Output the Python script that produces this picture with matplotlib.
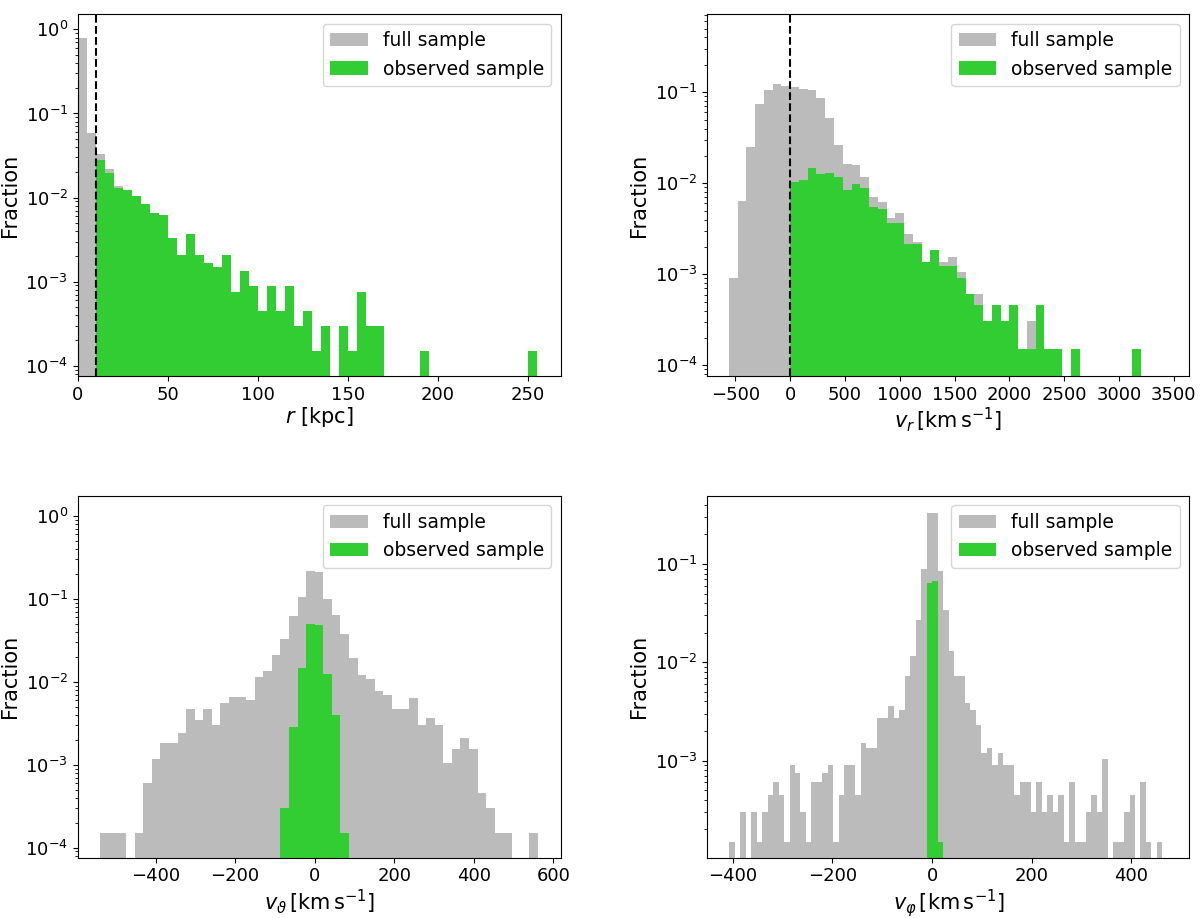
import matplotlib.pyplot as plt
from matplotlib.ticker import MultipleLocator
import numpy as np

GREY = '#bbbbbb'
GREEN = '#32cd32'

# bin edges of the four histograms
r_edges = np.arange(0, 256, 5)           # kpc, 51 bins
vr_edges = np.arange(-560, 3441, 80)     # km/s, 50 bins
vt_edges = np.arange(-25, 27) * 21.56    # km/s, 51 bins
vp_edges = np.arange(-37, 43) * 11.0     # km/s, 79 bins

# fractions
r_full = [0.796, 0.0578, 0.0331, 0.0216, 0.0136, 0.01245, 0.01047, 0.0084, 0.0065, 0.00628,
          0.00328, 0.0021, 0.00373, 0.0021, 0.00165, 0.0015, 0.0021, 0.000746, 0.00134, 0.000896,
          0.000448, 0.000896, 0.000448, 0.000896, 0.000299, 0.000448, 0.00015, 0.000299, 0, 0.000299,
          0.00015, 0.000746, 0.000299, 0.000299, 0, 0, 0, 0, 0.00015, 0,
          0, 0, 0, 0, 0, 0, 0, 0, 0, 0, 0.00015]
r_obs = [0, 0, 0.0283, 0.0195, 0.0130, 0.01245, 0.01047, 0.0084, 0.0065, 0.00628,
         0.00328, 0.0021, 0.00373, 0.0021, 0.00165, 0.0015, 0.0021, 0.000746, 0.00134, 0.000896,
         0.000448, 0.000896, 0.000448, 0.000896, 0.000299, 0.000448, 0.00015, 0.000299, 0, 0.000299,
         0.00015, 0.000746, 0.000299, 0.000299, 0, 0, 0, 0, 0.00015, 0,
         0, 0, 0, 0, 0, 0, 0, 0, 0, 0, 0.00015]

vr_full = [0.00092, 0.00634, 0.0251, 0.0738, 0.105, 0.1245, 0.1175, 0.1135, 0.1089, 0.106,
           0.0859, 0.0518, 0.0262, 0.0163, 0.0159, 0.0118, 0.0070, 0.00624, 0.00412, 0.00475,
           0.00275, 0.00228, 0.00138, 0.00185, 0.00136, 0.00154, 0.00106, 0.000608, 0.000608, 0.000305,
           0.000456, 0.000305, 0.000456, 0.000151, 0.000305, 0.000456, 0.000151, 0.000151, 0, 0.000151,
           0, 0, 0, 0, 0, 0, 0.000151, 0, 0, 0]
vr_obs = [0, 0, 0, 0, 0, 0, 0, 0.0104, 0.0109, 0.0146,
          0.0126, 0.0129, 0.0118, 0.00845, 0.00976, 0.0088, 0.00545, 0.00518, 0.00369, 0.00369,
          0.00215, 0.00215, 0.00138, 0.00185, 0.00123, 0.00123, 0.000918, 0.000608, 0.000456, 0.000305,
          0.000456, 0.000305, 0.000456, 0.000151, 0.000151, 0.000456, 0.000151, 0.000151, 0, 0.000151,
          0, 0, 0, 0, 0, 0, 0.000151, 0, 0, 0]

vt_full = [0.00015, 0.00015, 0.00015, 0, 0.00015, 0.0006, 0.00118, 0.00181, 0.00181, 0.00244,
           0.0047, 0.00347, 0.0047, 0.00304, 0.0056, 0.0065, 0.0065, 0.006, 0.0113, 0.0135,
           0.0211, 0.0326, 0.0628, 0.1064, 0.217, 0.211, 0.0989, 0.0634, 0.0374, 0.0192,
           0.012, 0.0107, 0.0078, 0.0069, 0.0047, 0.0047, 0.0063, 0.00301, 0.00363, 0.00301,
           0.00104, 0.00153, 0.00208, 0.00153, 0.00045, 0.0003, 0.00015, 0.00015, 0, 0,
           0.00015]
vt_obs = [0.0003, 0.00288, 0.01455, 0.0499, 0.048, 0.0124, 0.00394, 0.00015]
vt_obs_first = 21   # first bin index of the observed histogram

vp_full = [0.00015, 0, 0.0003, 0, 0.0003, 0.00015, 0.0003, 0.00045, 0.0006, 0.00045,
           0.00015, 0.0009, 0.00075, 0.0003, 0.00015, 0.0006, 0.0006, 0.00075, 0.0009, 0.00015,
           0.00045, 0.0009, 0.0009, 0.00045, 0.0015, 0.00135, 0.00135, 0.0027, 0.0027, 0.0036,
           0.0027, 0.0033, 0.0072, 0.0115, 0.0269, 0.0883, 0.333, 0.333, 0.0855, 0.034,
           0.0131, 0.0073, 0.0073, 0.0039, 0.0033, 0.0023, 0.0012, 0.00135, 0.0009, 0.0012,
           0.0009, 0.0009, 0.00045, 0.0006, 0.0006, 0.0003, 0.0006, 0.0003, 0.00045, 0.0003,
           0.00045, 0.00015, 0.0006, 0.00015, 0.00015, 0.0003, 0.00045, 0.0003, 0.00105, 0,
           0.00015, 0.00015, 0.0003, 0.00045, 0, 0.0006, 0.00015, 0, 0.00015]
vp_obs = [0.0637, 0.0671, 0.00015]
vp_obs_first = 36


def panel(ax, edges, full, obs, first, xlabel, xlim, ylim, cut=None):
    c = 0.5 * (edges[1:] + edges[:-1])
    ax.hist(c, bins=edges, weights=full, color=GREY, log=True, label='full sample')
    e = edges[first:first + len(obs) + 1]
    ax.hist(0.5 * (e[1:] + e[:-1]), bins=e, weights=obs, color=GREEN, log=True,
            label='observed sample')
    if cut is not None:
        ax.axvline(cut, color='k', ls='--', lw=1.5)
    ax.set_xlim(xlim)
    ax.set_ylim(ylim)
    ax.set_xlabel(xlabel, fontsize=15, labelpad=1)
    ax.set_ylabel('Fraction', fontsize=15)
    ax.tick_params(labelsize=13)
    ax.legend(loc='upper right', fontsize=13.5)


fig = plt.figure(figsize=(12, 9.18), dpi=100)
ax1 = fig.add_axes([0.0648, 0.5904, 0.4025, 0.394])
ax2 = fig.add_axes([0.5894, 0.5904, 0.4017, 0.394])
ax3 = fig.add_axes([0.0648, 0.0657, 0.4025, 0.394])
ax4 = fig.add_axes([0.5894, 0.0657, 0.4017, 0.394])

panel(ax1, r_edges, r_full, r_obs, 0, r'$r$ [kpc]', (0, 268.3), (7.54e-5, 1.51), cut=10)
panel(ax2, vr_edges, vr_full, vr_obs, 0, r'$v_r\,[\mathrm{km\,s^{-1}}]$',
      (-756, 3641), (7.63e-5, 0.719), cut=0)
ax2.xaxis.set_major_locator(MultipleLocator(500))
panel(ax3, vt_edges, vt_full, vt_obs, vt_obs_first, r'$v_\vartheta\,[\mathrm{km\,s^{-1}}]$',
      (-596, 619), (7.57e-5, 1.74))
panel(ax4, vp_edges, vp_full, vp_obs, vp_obs_first, r'$v_\varphi\,[\mathrm{km\,s^{-1}}]$',
      (-451, 516), (1.03e-4, 0.492))

fig.savefig('out.png', dpi=100)
